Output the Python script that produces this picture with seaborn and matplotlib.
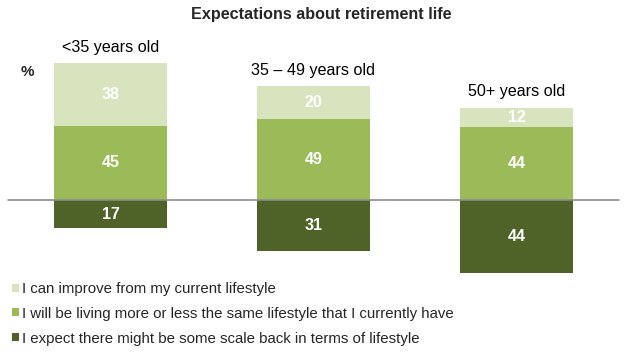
import matplotlib
matplotlib.use("Agg")
import matplotlib.pyplot as plt
import seaborn as sns
import pandas as pd
from matplotlib.patches import Patch

groups = ["<35 years old", "35 \u2013 49 years old", "50+ years old"]
improve = [38, 20, 12]
same = [45, 49, 44]
scale_back = [17, 31, 44]
series_names = [
    "I can improve from my current lifestyle",
    "I will be living more or less the same lifestyle that I currently have",
    "I expect there might be some scale back in terms of lifestyle",
]
colors = ["#D7E4BD", "#9BBB59", "#4F6228"]

sns.set_theme(style="white")
plt.rcParams["font.family"] = ["Liberation Sans", "DejaVu Sans"]

df = pd.DataFrame({
    "group": groups,
    "improve": improve,
    "same": same,
    "scale_back": scale_back,
})
df["pos_total"] = df["improve"] + df["same"]
df["neg"] = -df["scale_back"]

fig = plt.figure(figsize=(6.32, 3.55), dpi=100)
ax = fig.add_axes([0, 0, 1, 1])

bw = 0.557
sns.barplot(data=df, x="group", y="pos_total", order=groups, color=colors[0],
            width=bw, saturation=1, ax=ax, linewidth=0)
sns.barplot(data=df, x="group", y="same", order=groups, color=colors[1],
            width=bw, saturation=1, ax=ax, linewidth=0)
sns.barplot(data=df, x="group", y="neg", order=groups, color=colors[2],
            width=bw, saturation=1, ax=ax, linewidth=0)

ax.set_xlim(-0.544, 2.569)
ax.set_ylim(-93.9, 121.2)
ax.axhline(0, xmin=8 / 632, xmax=619 / 632, color="#8C8C8C", lw=1.2, zorder=5)

vfs = 11.5
for i, row in df.iterrows():
    ax.text(i, row["same"] + row["improve"] / 2, str(row["improve"]), ha="center", va="center",
            color="white", fontsize=vfs, fontweight="bold")
    ax.text(i, row["same"] / 2, str(row["same"]), ha="center", va="center",
            color="white", fontsize=vfs, fontweight="bold")
    ax.text(i, -row["scale_back"] / 2, str(row["scale_back"]), ha="center", va="center",
            color="white", fontsize=vfs, fontweight="bold")
    ax.text(i, row["pos_total"] + 9.7, row["group"], ha="center", va="center",
            color="black", fontsize=11.6)

ax.set_axis_off()

fig.text(321 / 632, 1 - 14 / 355, "Expectations about retirement life", ha="center", va="center",
         fontsize=11.6, fontweight="bold")
fig.text(27 / 632, 1 - 72 / 355, "%", ha="center", va="center", fontsize=11, fontweight="bold")

handles = [Patch(facecolor=c, edgecolor="none") for c in colors]
leg = fig.legend(handles, series_names, loc="upper left", bbox_to_anchor=(12 / 632, 1 - 282 / 355),
                 frameon=False, fontsize=10.8, handlelength=0.45, handleheight=0.45,
                 handletextpad=0.25, labelspacing=0.72, borderaxespad=0, borderpad=0.0)

fig.savefig("out.png", dpi=100)
